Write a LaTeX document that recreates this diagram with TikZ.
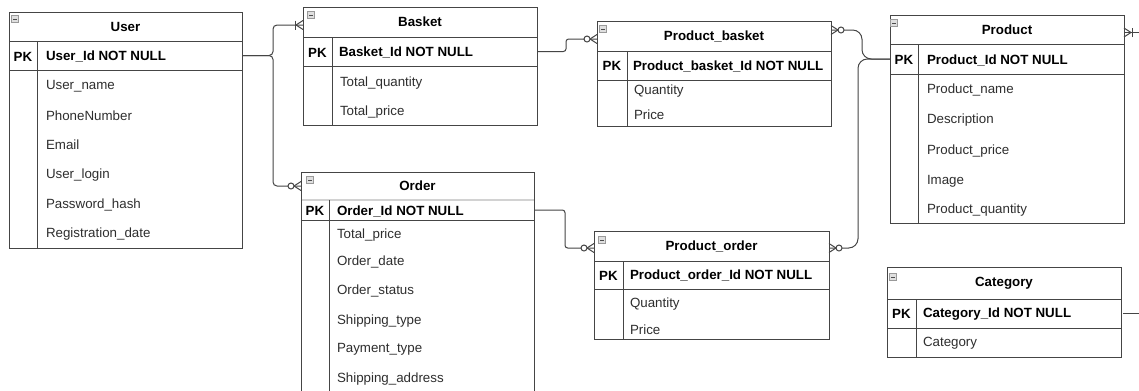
\documentclass[tikz,border=0pt]{standalone}
\usepackage{fontspec}
\setmainfont{Liberation Sans}
\usetikzlibrary{calc}
\definecolor{lc}{HTML}{454545}
\definecolor{tc}{HTML}{2E2E2E}
\begin{document}
\begin{tikzpicture}[x=0.75pt,y=-0.75pt,
  every node/.style={inner sep=0pt, outer sep=0pt, font=\fontsize{10}{12}\selectfont},
  cw/.style={minimum width=#1*0.75pt},
  ch/.style={minimum height=#1*0.75pt},
  cell/.style={draw=lc, line width=0.75pt, anchor=north west},
  ttl/.style={cell, font=\fontsize{10}{12}\selectfont\bfseries},
  key/.style={font=\fontsize{10}{12}\selectfont\bfseries, yshift=-0.6pt},
  pkf/.style={anchor=west, font=\fontsize{10}{12}\selectfont\bfseries, yshift=-0.6pt},
  fld/.style={anchor=west, text=tc, yshift=-1pt},
  ln/.style={draw=lc, line width=0.75pt},
  mini/.style={draw=gray!80, fill=gray!25, minimum size=5pt, line width=0.4pt,
    path picture={\draw[gray!60!black, line width=0.6pt]
      ([xshift=1pt]path picture bounding box.west) -- ([xshift=-1pt]path picture bounding box.east);}},
  zmany/.pic={\draw[ln] (0,-4.5) -- (-7,0) -- (0,4.5);
              \draw[ln, fill=white] (-10,0) circle[radius=3];},
  omany/.pic={\draw[ln] (0,-4.5) -- (-7,0) -- (0,4.5);
              \draw[ln] (-8,-4.5) -- (-8,4.5);}
]
\useasboundingbox[fill=white] (0,0) rectangle (1139,390);
\coordinate (edge-r) at (1139,0);

% ---------- User ----------
\node[ttl, cw=233, ch=29] (user-t) at (9,12) {User};
\node[cell, cw=233, ch=29] (user-pk) at (user-t.south west) {};
\node[cell, cw=233, ch=178] (user-b) at (user-pk.south west) {};
\draw[ln] (37,41) -- (37,248);
\node[mini] (user-i) at (15,19) {};
\node[key] (user-k) at (23,56) {PK};
\node[pkf] (user-id) at (46,56) {User\_Id NOT NULL};
\node[fld] (user-f1) at (46,85) {User\_name};
\node[fld] (user-f2) at (46,114) {PhoneNumber};
\node[fld] (user-f3) at (46,143) {Email};
\node[fld] (user-f4) at (46,174) {User\_login};
\node[fld] (user-f5) at (46,204) {Password\_hash};
\node[fld] (user-f6) at (46,233) {Registration\_date};

% ---------- Basket ----------
\node[ttl, cw=234, ch=30] (bkt-t) at (303,7) {Basket};
\node[cell, cw=234, ch=29] (bkt-pk) at (bkt-t.south west) {};
\node[cell, cw=234, ch=59] (bkt-b) at (bkt-pk.south west) {};
\draw[ln] (332,37) -- (332,125);
\node[mini] (bkt-i) at (311,15) {};
\node[key] (bkt-k) at (317.5,52) {PK};
\node[pkf] (bkt-id) at (339,52) {Basket\_Id NOT NULL};
\node[fld] (bkt-f1) at (340,82) {Total\_quantity};
\node[fld] (bkt-f2) at (340,111) {Total\_price};

% ---------- Product_basket ----------
\node[ttl, cw=234, ch=30] (pb-t) at (597,21) {Product\_basket};
\node[cell, cw=234, ch=29] (pb-pk) at (pb-t.south west) {};
\node[cell, cw=234, ch=46] (pb-b) at (pb-pk.south west) {};
\draw[ln] (627,51) -- (627,126);
\node[mini] (pb-i) at (603,29) {};
\node[key] (pb-k) at (612,65.5) {PK};
\node[pkf] (pb-id) at (633,65.5) {Product\_basket\_Id NOT NULL};
\node[fld] (pb-f1) at (634,90) {Quantity};
\node[fld] (pb-f2) at (634,113) {Price};

% ---------- Product ----------
\node[ttl, cw=234, ch=29] (prod-t) at (890,15) {Product};
\node[cell, cw=234, ch=30] (prod-pk) at (prod-t.south west) {};
\node[cell, cw=234, ch=149] (prod-b) at (prod-pk.south west) {};
\draw[ln] (918,44) -- (918,223);
\node[mini] (prod-i) at (894,23) {};
\node[key] (prod-k) at (904,59.5) {PK};
\node[pkf] (prod-id) at (927,59.5) {Product\_Id NOT NULL};
\node[fld] (prod-f1) at (927,89) {Product\_name};
\node[fld] (prod-f2) at (927,119) {Description};
\node[fld] (prod-f3) at (927,150) {Product\_price};
\node[fld] (prod-f4) at (927,180) {Image};
\node[fld] (prod-f5) at (927,209) {Product\_quantity};

% ---------- Order ----------
\node[ttl, cw=233, ch=28] (ord-t) at (301,172) {Order};
\node[cell, cw=233, ch=20] (ord-pk) at (ord-t.south west) {};
\node[cell, cw=233, ch=185] (ord-b) at (ord-pk.south west) {};
\draw[gray!35, line width=1.4pt] (301.5,200) -- (533.5,200);
\draw[ln] (329,200) -- (329,405);
\node[mini] (ord-i) at (310,180) {};
\node[key] (ord-k) at (315,210.5) {PK};
\node[pkf] (ord-id) at (337,210.5) {Order\_Id NOT NULL};
\node[fld] (ord-f1) at (337,234) {Total\_price};
\node[fld] (ord-f2) at (337,261) {Order\_date};
\node[fld] (ord-f3) at (337,290) {Order\_status};
\node[fld] (ord-f4) at (337,320) {Shipping\_type};
\node[fld] (ord-f5) at (337,348) {Payment\_type};
\node[fld] (ord-f6) at (337,378) {Shipping\_address};

% ---------- Product_order ----------
\node[ttl, cw=235, ch=30] (po-t) at (594,231) {Product\_order};
\node[cell, cw=235, ch=28] (po-pk) at (po-t.south west) {};
\node[cell, cw=235, ch=50] (po-b) at (po-pk.south west) {};
\draw[ln] (623,261) -- (623,339);
\node[mini] (po-i) at (602,240) {};
\node[key] (po-k) at (608.5,275) {PK};
\node[pkf] (po-id) at (630,275) {Product\_order\_Id NOT NULL};
\node[fld] (po-f1) at (630,303) {Quantity};
\node[fld] (po-f2) at (630,328) {Price};

% ---------- Category ----------
\node[ttl, cw=234, ch=32] (cat-t) at (887,267) {Category};
\node[cell, cw=234, ch=29] (cat-pk) at (cat-t.south west) {};
\node[cell, cw=234, ch=29] (cat-b) at (cat-pk.south west) {};
\draw[ln] (916,299) -- (916,357);
\node[mini] (cat-i) at (893,277) {};
\node[key] (cat-k) at (901.5,313.5) {PK};
\node[pkf] (cat-id) at (923,313.5) {Category\_Id NOT NULL};
\node[fld] (cat-f1) at (923,342) {Category};

% ---------- relationship end points ----------
\coordinate (bkt-in)  at ([yshift=-2.25pt]bkt-t.west);
\coordinate (ord-in)  at (ord-t.west);
\coordinate (pb-in)   at ([yshift=-2.25pt]pb-t.west);
\coordinate (pb-out)  at ([yshift=4.5pt]pb-t.east);
\coordinate (po-in)   at ([yshift=-1.5pt]po-t.west);
\coordinate (po-out)  at ([yshift=-1.5pt]po-t.east);
\coordinate (prod-out) at ([yshift=-2.25pt]prod-t.east);

% ---------- relationships ----------
\draw[ln, rounded corners=3pt] (user-pk.east) -- ++(31,0) |- (bkt-in);
\draw[ln, rounded corners=3pt] (user-pk.east) -- ++(31,0) |- (ord-in);
\draw[ln, rounded corners=2pt] (bkt-pk.east) -- ++(29,0) |- (pb-in);
\draw[ln, rounded corners=2pt] (ord-pk.east) -- ++(31,0) |- (po-in);
\draw[ln, rounded corners=7pt] (pb-out) -| ([xshift=-21pt]prod-pk.west) -- (prod-pk.west);
\draw[ln, rounded corners=7pt] (po-out) -| ([xshift=-24pt]prod-pk.west) -- (prod-pk.west);
\draw[ln] (prod-out) -- (prod-out -| edge-r);
\draw[ln] ([xshift=1.5pt]cat-pk.east) -- (cat-pk.east -| edge-r);

% ---------- cardinality marks ----------
\pic at (bkt-in) {omany};
\pic at (ord-in) {zmany};
\pic at (pb-in) {zmany};
\pic[rotate=180] at (pb-out) {zmany};
\pic at (po-in) {zmany};
\pic[rotate=180] at (po-out) {zmany};
\pic[rotate=180] at (prod-out) {omany};
\end{tikzpicture}
\end{document}
